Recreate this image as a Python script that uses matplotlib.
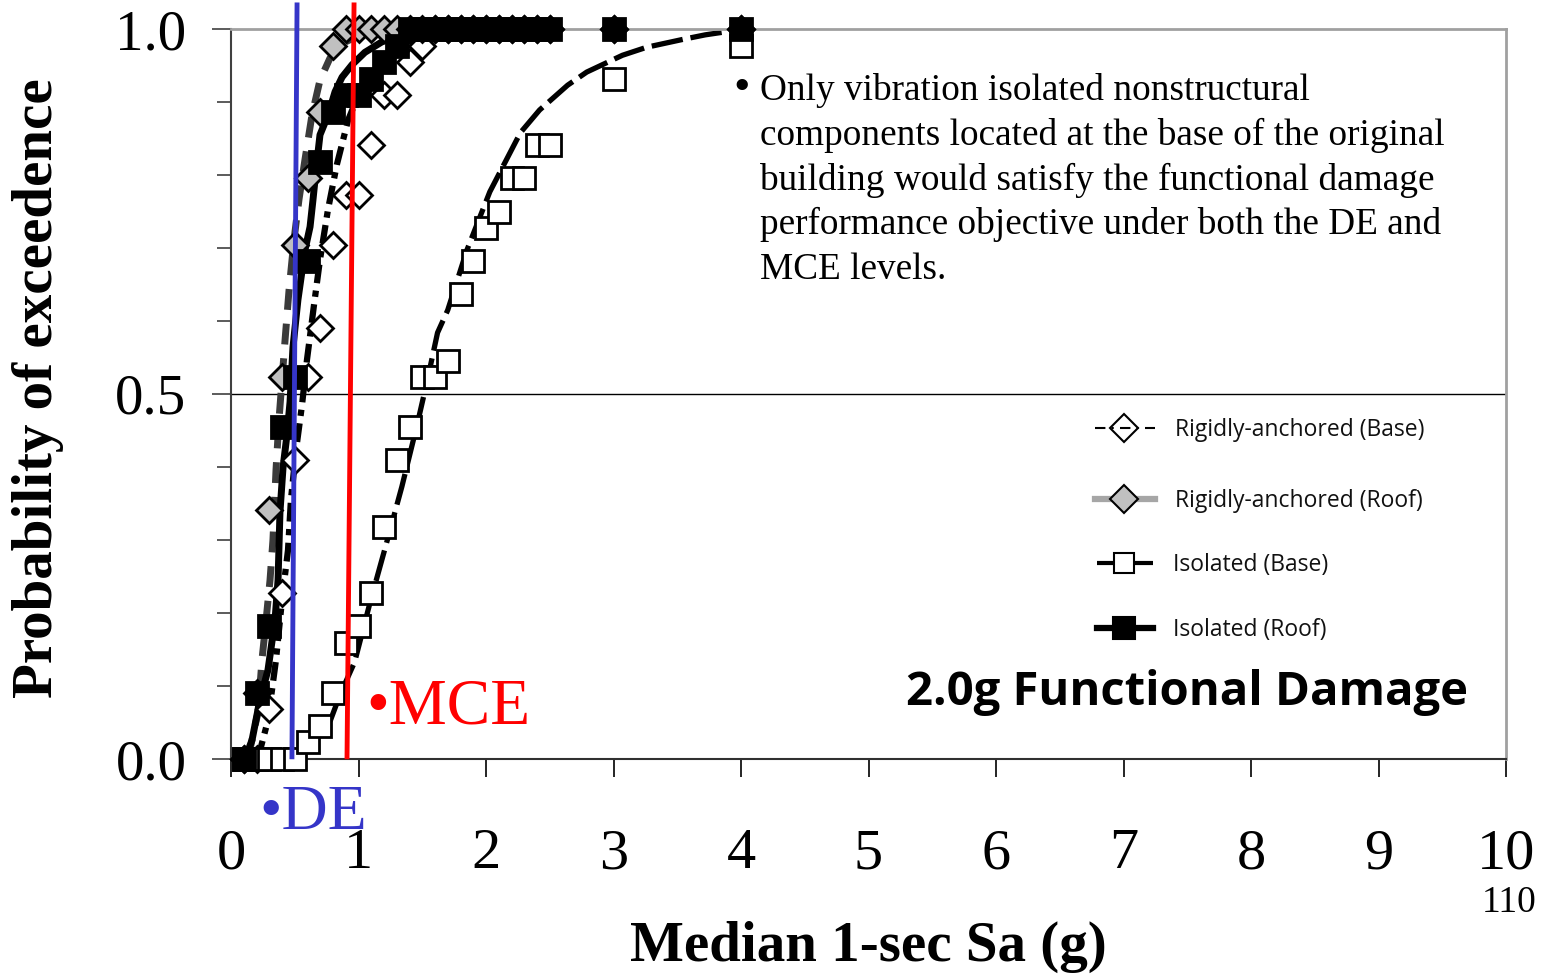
import matplotlib
matplotlib.use("Agg")
import matplotlib.pyplot as plt
from matplotlib.lines import Line2D
import numpy as np

# ---- data -------------------------------------------------------------
N_RECORDS = 44
sa_levels = [0.1, 0.2, 0.3, 0.4, 0.5, 0.6, 0.7, 0.8, 0.9, 1.0, 1.1, 1.2, 1.3,
             1.4, 1.5, 1.6, 1.7, 1.8, 1.9, 2.0, 2.1, 2.2, 2.3, 2.4, 2.5, 3.0, 4.0]

# number of records exceeding the damage state at each Sa level
rigid_base_count = [0, 0, 3, 10, 18, 23, 26, 31, 34, 34, 37, 40, 40,
                    42, 43, 44, 44, 44, 44, 44, 44, 44, 44, 44, 44, 44, 44]
rigid_roof_count = [0, 4, 15, 23, 31, 35, 39, 43, 44, 44, 44, 44, 44,
                    44, 44, 44, 44, 44, 44, 44, 44, 44, 44, 44, 44, 44, 44]
iso_base_count = [0, 0, 0, 0, 0, 1, 2, 4, 7, 8, 10, 14, 18,
                  20, 23, 23, 24, 28, 30, 32, 33, 35, 35, 37, 37, 41, 43]
iso_roof_count = [0, 4, 8, 20, 23, 30, 36, 39, 40, 40, 41, 42, 43,
                  44, 44, 44, 44, 44, 44, 44, 44, 44, 44, 44, 44, 44, 44]

# fitted fragility curves (Sa, probability)
rigid_base_fit_x = [0.21, 0.29, 0.353, 0.40, 0.447, 0.47, 0.51, 0.557, 0.596, 0.651,
                    0.698, 0.76, 0.83, 0.918, 1.03, 1.17, 1.36, 1.64, 1.95]
rigid_base_fit_y = [0.0, 0.053, 0.136, 0.218, 0.286, 0.355, 0.423, 0.485, 0.547, 0.622,
                    0.684, 0.752, 0.814, 0.875, 0.923, 0.958, 0.982, 0.996, 1.0]

rigid_roof_fit_x = [0.133, 0.173, 0.212, 0.243, 0.275, 0.306, 0.329, 0.353, 0.376, 0.40,
                    0.424, 0.455, 0.494, 0.533, 0.58, 0.635, 0.698, 0.776, 0.894, 1.05, 1.33]
rigid_roof_fit_y = [0.0, 0.033, 0.064, 0.136, 0.19, 0.245, 0.30, 0.396, 0.464, 0.519,
                    0.574, 0.642, 0.711, 0.766, 0.821, 0.882, 0.93, 0.96, 0.982, 0.995, 1.0]

iso_base_fit_x = [0.52, 0.58, 0.78, 0.855, 0.97, 1.09, 1.22, 1.34, 1.46, 1.54, 1.62, 1.70,
                  1.85, 2.03, 2.27, 2.42, 2.64, 2.79, 3.07, 3.26, 3.55, 3.72, 3.99]
iso_base_fit_y = [0.0, 0.012, 0.053, 0.088, 0.133, 0.214, 0.296, 0.373, 0.458, 0.519, 0.584,
                  0.615, 0.697, 0.777, 0.858, 0.889, 0.923, 0.941, 0.964, 0.975, 0.986,
                  0.992, 0.999]

iso_roof_fit_x = [0.11, 0.165, 0.227, 0.29, 0.345, 0.369, 0.384, 0.408, 0.439, 0.463, 0.486,
                  0.525, 0.58, 0.62, 0.643, 0.667, 0.698, 0.761, 0.816, 0.871, 0.949, 1.05,
                  1.18, 1.31, 1.56]
iso_roof_fit_y = [0.0, 0.026, 0.081, 0.122, 0.19, 0.245, 0.338, 0.399, 0.444, 0.489, 0.564,
                  0.629, 0.697, 0.729, 0.766, 0.807, 0.855, 0.882, 0.914, 0.934, 0.951, 0.968,
                  0.982, 0.992, 0.999]

# hazard levels (drawn as slightly leaning marker lines)
de_line_x = [0.518, 0.478]
mce_line_x = [0.965, 0.91]
hazard_line_y = [1.033, 0.003]

x_ticks = [0, 1, 2, 3, 4, 5, 6, 7, 8, 9, 10]
y_ticks = [0.0, 0.5, 1.0]
y_minor = [0.1, 0.2, 0.3, 0.4, 0.6, 0.7, 0.8, 0.9]

note_lines = ["Only vibration isolated nonstructural",
              "components located at the base of the original",
              "building would satisfy the functional damage",
              "performance objective under both the DE and",
              "MCE levels."]

# ---- figure -----------------------------------------------------------
W, H = 1546, 975
fig = plt.figure(figsize=(W / 100, H / 100), dpi=100)
ax = fig.add_axes([231 / W, 1 - 759 / H, (1506 - 231) / W, (759 - 29) / H])

def fx(px):
    return px / W

def fy(py):
    return 1 - py / H

SERIF = "Liberation Serif"
SANS = "Open Sans"

def prob(counts):
    return [c / N_RECORDS for c in counts]

# fitted curves
ax.plot(rigid_base_fit_x, rigid_base_fit_y, color="black", lw=4.5,
        dashes=(3, 1.2, 1, 1.2), zorder=2)
ax.plot(rigid_roof_fit_x, rigid_roof_fit_y, color="#3a3a3a", lw=5,
        dashes=(3, 2), zorder=2)
ax.plot(iso_base_fit_x, iso_base_fit_y, color="black", lw=3.8,
        dashes=(6, 1.5), zorder=2)
ax.plot(iso_roof_fit_x, iso_roof_fit_y, color="black", lw=5, zorder=2)

# observed exceedance fractions
ax.plot(sa_levels, prob(rigid_base_count), ls="none", marker="D", ms=13,
        mfc="white", mec="black", mew=2, zorder=3, clip_on=False)
ax.plot(sa_levels, prob(rigid_roof_count), ls="none", marker="D", ms=13,
        mfc="#c0c0c0", mec="black", mew=2, zorder=4, clip_on=False)
ax.plot(sa_levels, prob(iso_base_count), ls="none", marker="s", ms=16,
        mfc="white", mec="black", mew=2, zorder=5, clip_on=False)
ax.plot(sa_levels, prob(iso_roof_count), ls="none", marker="s", ms=16,
        mfc="black", mec="black", mew=2, zorder=6, clip_on=False)

# DE / MCE lines
ax.add_line(Line2D(de_line_x, hazard_line_y, color="#3535c8", lw=3.5,
                   zorder=10, clip_on=False))
ax.add_line(Line2D(mce_line_x, hazard_line_y, color="#ff0000", lw=3.5,
                   zorder=10, clip_on=False))

# axes styling
ax.set_xlim(0, 10)
ax.set_ylim(0, 1)
ax.set_xticks(x_ticks)
ax.set_yticks(y_ticks)
ax.set_yticks(y_minor, minor=True)
ax.set_xticklabels([str(t) for t in x_ticks], fontfamily=SERIF, fontsize=42)
ax.set_yticklabels(["%.1f" % t for t in y_ticks], fontfamily=SERIF, fontsize=41)
ax.tick_params(axis="x", which="major", direction="out", length=13, width=1.2,
               color="black", pad=37)
ax.tick_params(axis="y", which="major", direction="out", length=14, width=1.2,
               color="#404040", pad=18)
ax.tick_params(axis="y", which="minor", direction="out", length=10, width=1.2,
               color="#404040")
for side in ("top", "right"):
    ax.spines[side].set_color("#a0a0a0")
    ax.spines[side].set_linewidth(2)
ax.spines["left"].set_color("#404040")
ax.spines["left"].set_linewidth(1.5)
ax.spines["bottom"].set_color("#303030")
ax.spines["bottom"].set_linewidth(1.5)
ax.axhline(0.5, color="black", lw=1.0, zorder=1)

# axis titles
fig.text(fx(38), fy(388), "Probability of exceedence", rotation=90,
         ha="center", va="center", fontfamily=SERIF, fontweight="bold", fontsize=41)
fig.text(fx(868), fy(947), "Median 1-sec Sa (g)", ha="center", va="center",
         fontfamily=SERIF, fontweight="bold", fontsize=41)
fig.text(fx(1509), fy(903), "110", ha="center", va="center",
         fontfamily=SERIF, fontsize=27)

# hazard labels
fig.text(fx(259), fy(829), "\u2022DE", ha="left", va="baseline",
         color="#3535c8", fontfamily=SERIF, fontsize=46)
fig.text(fx(366), fy(708), "\u2022MCE", ha="left", va="center",
         color="#ff0000", fontfamily=SERIF, fontsize=47)

# note
fig.text(fx(733), fy(100), "\u2022", ha="left", va="baseline",
         fontfamily=SERIF, fontsize=34)
for i, line in enumerate(note_lines):
    fig.text(fx(760), fy(100 + 44.8 * i), line, ha="left", va="baseline",
             fontfamily=SERIF, fontsize=26.8)

# panel title
fig.text(fx(1468), fy(692), "2.0g Functional Damage", ha="right", va="center",
         fontfamily=SANS, fontweight="bold", fontsize=34)

# legend
leg_y = [428, 499, 563, 628]
leg_labels = ["Rigidly-anchored (Base)", "Rigidly-anchored (Roof)",
              "Isolated (Base)", "Isolated (Roof)"]
leg_text_x = [1175, 1175, 1173, 1173]
hx0, hx1, hxm = 1095, 1155, 1124
# rigid base handle
fig.add_artist(Line2D([fx(hx0), fx(hx1)], [fy(leg_y[0])] * 2, color="black",
                      lw=1.5, dashes=(5, 3, 1, 3)))
fig.add_artist(Line2D([fx(hxm)], [fy(leg_y[0])], marker="D", ms=14, mfc="none",
                      mec="black", mew=1.5))
# rigid roof handle
fig.add_artist(Line2D([fx(hx0), fx(hx1)], [fy(leg_y[1])] * 2, color="#a6a6a6",
                      lw=4.5))
fig.add_artist(Line2D([fx(hxm)], [fy(leg_y[1])], marker="D", ms=14, mfc="#c0c0c0",
                      mec="black", mew=1.5))
# isolated base handle
fig.add_artist(Line2D([fx(1097), fx(1153)], [fy(leg_y[2])] * 2, color="black",
                      lw=3, dashes=(6, 2)))
fig.add_artist(Line2D([fx(hxm)], [fy(leg_y[2])], marker="s", ms=15, mfc="white",
                      mec="black", mew=1.5))
# isolated roof handle
fig.add_artist(Line2D([fx(1097), fx(1153)], [fy(leg_y[3])] * 2, color="black",
                      lw=4.5))
fig.add_artist(Line2D([fx(hxm)], [fy(leg_y[3])], marker="s", ms=16, mfc="black",
                      mec="black", mew=1.5))
for y, lab, tx in zip(leg_y, leg_labels, leg_text_x):
    fig.text(fx(tx), fy(y + 2), lab, ha="left", va="center", fontfamily=SANS,
             fontsize=16.5, color="#111111")

fig.savefig("out.png", dpi=100)
